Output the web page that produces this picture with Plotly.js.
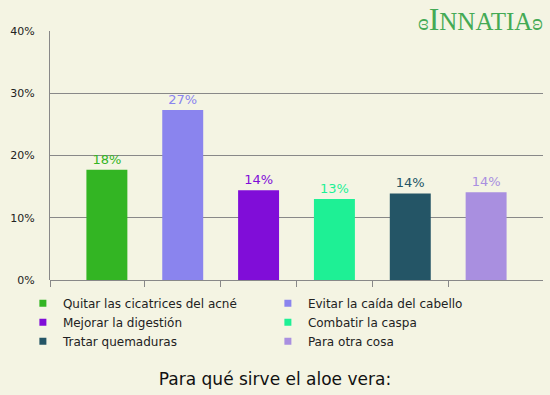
<!DOCTYPE html>
<html>
<head>
<meta charset="utf-8">
<script src="https://cdn.plot.ly/plotly-3.0.1.min.js"></script>
<style>html,body{margin:0;padding:0;background:#f4f4e3;}#chart{width:550px;height:395px;}</style>
</head>
<body>
<div id="chart"></div>
<script>
var categories = ["Quitar las cicatrices del acné", "Evitar la caída del cabello", "Mejorar la digestión", "Combatir la caspa", "Tratar quemaduras", "Para otra cosa"];
var values = [17.7, 27.3, 14.4, 13.0, 13.9, 14.1];
var colors = ["#33b523", "#8a84ee", "#800dd8", "#1ef095", "#245566", "#a98fe0"];
var yTicks = [0, 10, 20, 30, 40];
var yTickLabels = ["0%", "10%", "20%", "30%", "40%"];
var chartTitle = "Para qué sirve el aloe vera:";

var traces = [];
categories.forEach(function (c, i) {
  traces.push({
    type: "bar",
    x: [i],
    y: [values[i]],
    name: c,
    width: 0.54,
    marker: {color: colors[i]},
    text: [Math.round(values[i]) + "%"],
    textposition: "outside",
    textfont: {color: colors[i], size: 13, family: "DejaVu Sans"},
    cliponaxis: false,
    showlegend: false,
    hoverinfo: "skip"
  });
});
categories.forEach(function (c, i) {
  traces.push({
    type: "scatter",
    mode: "markers",
    x: [null],
    y: [null],
    name: c,
    marker: {color: colors[i], symbol: "square", size: 7},
    showlegend: true
  });
});

var layout = {
  width: 550,
  height: 395,
  paper_bgcolor: "#f4f4e3",
  plot_bgcolor: "#f4f4e3",
  margin: {l: 50, r: 7, t: 31, b: 115},
  font: {family: "DejaVu Sans", color: "#222", size: 12},
  showlegend: true,
  bargap: 0.46,
  title: {
    text: chartTitle,
    font: {family: "DejaVu Sans", size: 17, color: "#111"},
    x: 0.5, xref: "container", xanchor: "center",
    y: 1 - 379 / 395, yref: "container", yanchor: "middle"
  },
  xaxis: {
    range: [-0.75, 5.75],
    tickmode: "array",
    tickvals: [-0.75, 0.5, 1.5, 2.5, 3.5, 4.5],
    ticktext: ["", "", "", "", "", ""],
    ticks: "outside",
    ticklen: 6,
    tickcolor: "#888",
    showgrid: false,
    zeroline: false,
    showline: false,
    fixedrange: true
  },
  yaxis: {
    range: [0, 40],
    tickmode: "array",
    tickvals: yTicks,
    ticktext: yTickLabels,
    ticks: "outside",
    ticklen: 12,
    tickcolor: "rgba(0,0,0,0)",
    tickfont: {family: "DejaVu Sans", size: 11, color: "#222"},
    showgrid: true,
    gridcolor: "#888",
    gridwidth: 1,
    zeroline: true,
    zerolinecolor: "#888",
    zerolinewidth: 1,
    showline: true,
    linecolor: "#888",
    linewidth: 1,
    fixedrange: true
  },
  legend: {
    orientation: "h",
    x: -0.055,
    xanchor: "left",
    y: -0.035,
    yanchor: "top",
    entrywidth: 200,
    font: {family: "DejaVu Sans", size: 12, color: "#222"},
    bgcolor: "rgba(0,0,0,0)",
    traceorder: "normal"
  },
  annotations: [{
    xref: "paper", yref: "paper",
    x: 1.005, y: 1 - 8 / 249,
    xanchor: "right", yanchor: "bottom",
    showarrow: false,
    text: "<span style='font-size:24px'>ɞ</span><span style='font-size:32px'>I</span>NNATIA<span style='font-size:24px'>ʚ</span>",
    font: {family: "Liberation Serif", size: 25, color: "#44aa55"}
  }]
};

Plotly.newPlot("chart", traces, layout, {staticPlot: true, displayModeBar: false});
</script>
</body>
</html>
